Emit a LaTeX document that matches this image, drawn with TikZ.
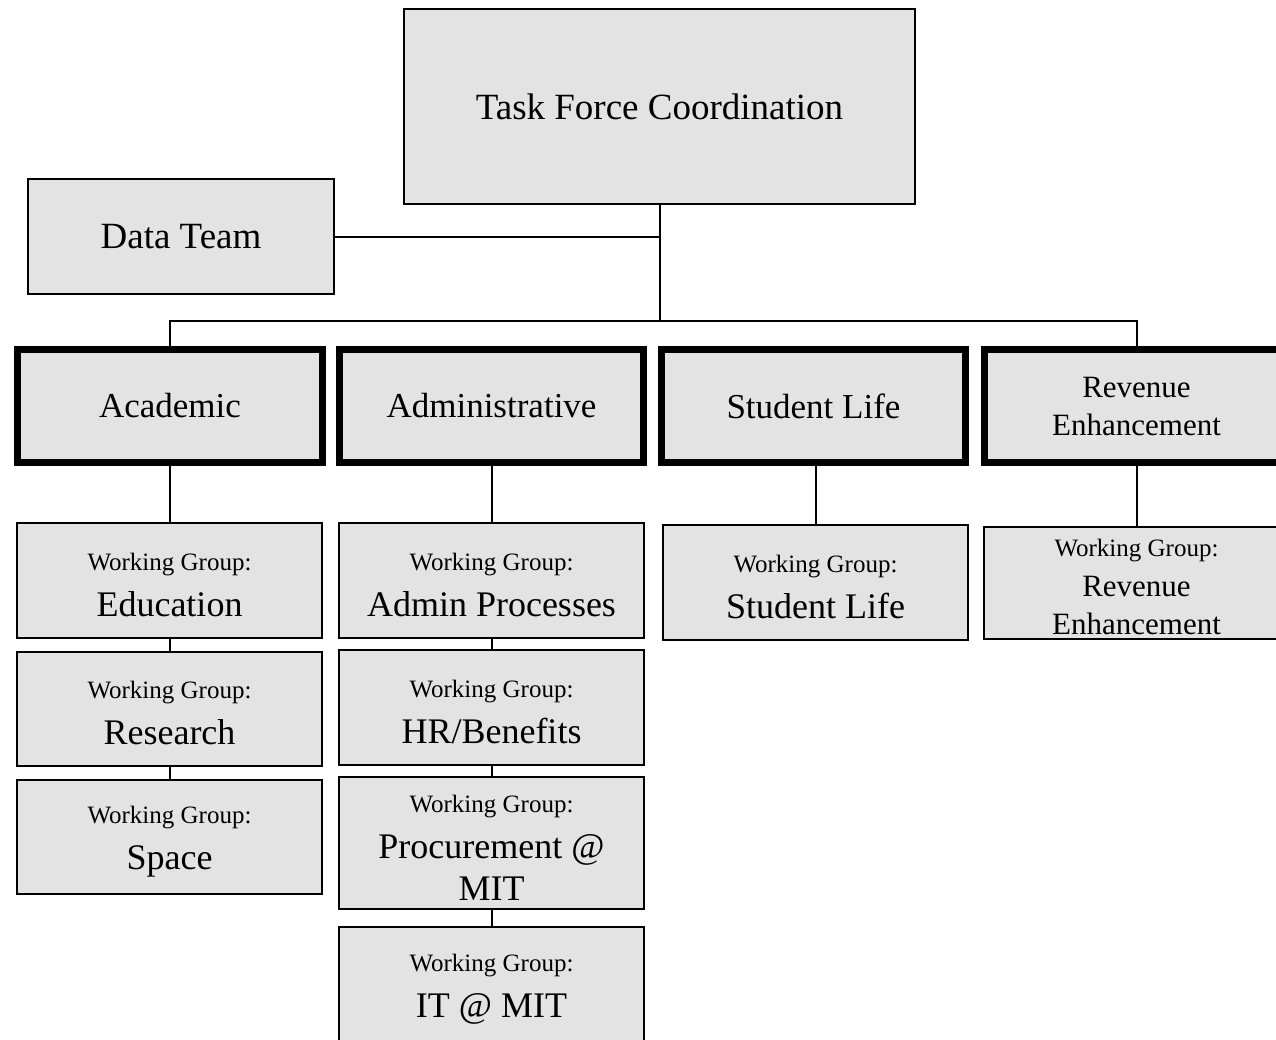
\documentclass[tikz,border=0pt]{standalone}
\usepackage{fontspec}
\setmainfont{Liberation Serif}
\definecolor{boxfill}{RGB}{227,227,227}
\begin{document}
\begin{tikzpicture}[x=1pt,y=-1pt,
  box/.style={draw=black,fill=boxfill,line width=2pt,rectangle,inner sep=0pt,align=center,
    font=\fontsize{35}{42}\selectfont},
  topbox/.style={box,line width=7.5pt},
  wgbox/.style={box,minimum width=305pt,minimum height=115pt,font=\fontsize{36}{42}\selectfont},
  conn/.style={draw=black,line width=2pt}]
\clip (0,0) rectangle (1276,1039);
\fill[white] (0,0) rectangle (1276,1039);

\newcommand{\wglabel}{{\fontsize{25}{30}\selectfont\rule{0pt}{26pt}Working Group:}}

\node[box,minimum width=511pt,minimum height=195pt,font=\fontsize{37}{44}\selectfont] (tf) at (659.5,106.5) {Task Force Coordination};
\node[box,minimum width=306pt,minimum height=115pt,font=\fontsize{37}{44}\selectfont] (data) at (181,236.5) {Data Team};

\node[topbox,minimum width=305pt,minimum height=113pt] (acad) at (170,406) {Academic};
\node[topbox,minimum width=304pt,minimum height=113pt] (admin) at (491.5,406) {Administrative};
\node[topbox,minimum width=304pt,minimum height=113pt] (slife) at (813.5,406) {Student Life};
\node[topbox,minimum width=304pt,minimum height=113pt,font=\fontsize{31}{38}\selectfont] (rev) at (1136.5,406) {Revenue\\Enhancement};

\node[wgbox] (edu) at (169.5,580.5) {\wglabel\\[4pt]Education};
\node[wgbox,minimum height=114pt] (res) at (169.5,709) {\wglabel\\[4pt]Research};
\node[wgbox,minimum height=114pt] (space) at (169.5,837) {\wglabel\\[4pt]Space};

\node[wgbox] (ap) at (491.5,580.5) {\wglabel\\[4pt]Admin Processes};
\node[wgbox] (hr) at (491.5,707.5) {\wglabel\\[4pt]HR/Benefits};
\node[wgbox,minimum height=132pt] (proc) at (491.5,843) {\wglabel\\[4pt]Procurement @\\MIT};
\node[wgbox] (it) at (491.5,984.5) {\wglabel\\[4pt]IT @ MIT};

\node[wgbox] (slwg) at (815.5,582.5) {\wglabel\\[4pt]Student Life};
\node[wgbox,minimum height=112pt,font=\fontsize{31}{38}\selectfont] (revwg) at (1136.5,583) {\wglabel\\[2pt]Revenue\\Enhancement};

\coordinate (bus) at (659.5,321);
\draw[conn] (tf.south) -- (bus);
\draw[conn] (data.east) -- (data.east -| tf.south);
\draw[conn] (acad.north) -- (acad.north |- bus) -- (rev.north |- bus) -- (rev.north);

\draw[conn] (acad.south) -- (acad.south |- edu.north);
\draw[conn] (edu.south) -- (res.north);
\draw[conn] (res.south) -- (space.north);

\draw[conn] (admin.south) -- (ap.north);
\draw[conn] (ap.south) -- (hr.north);
\draw[conn] (hr.south) -- (proc.north);
\draw[conn] (proc.south) -- (it.north);

\draw[conn] (slwg.north |- slife.south) -- (slwg.north);
\draw[conn] (rev.south) -- (revwg.north);
\end{tikzpicture}
\end{document}
